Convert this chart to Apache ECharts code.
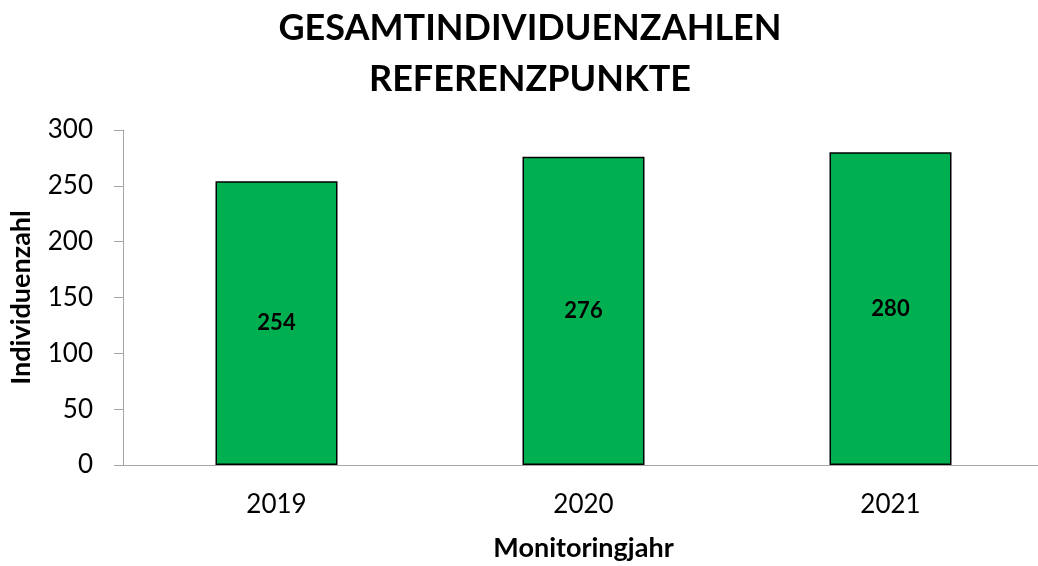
<!DOCTYPE html>
<html>
<head>
<meta charset="utf-8">
<script src="https://cdn.jsdelivr.net/npm/echarts@6/dist/echarts.min.js"></script>
<style>
  html, body { margin: 0; padding: 0; background: #fff; }
  #chart { width: 1038px; height: 566px; }
</style>
</head>
<body>
<div id="chart"></div>
<script>
// Daten
let years = ["2019", "2020", "2021"];
let counts = [254, 276, 280];
let yTicks = [0, 50, 100, 150, 200, 250, 300];

let font = "Lato";

let mychart = echarts.init(document.getElementById("chart"));
let options = {
    animation: false,
    title: {
        text: "GESAMTINDIVIDUENZAHLEN\nREFERENZPUNKTE",
        left: 525,
        textAlign: "center",
        top: -2,
        textStyle: {
            fontFamily: font,
            fontWeight: "bold",
            fontSize: 36,
            lineHeight: 51,
            color: "#000"
        }
    },
    grid: {
        left: 123,
        right: -6,
        top: 130,
        bottom: 101,
        outerBoundsMode: "none"
    },
    xAxis: {
        type: "category",
        data: years,
        name: "Monitoringjahr",
        nameLocation: "middle",
        nameGap: 70,
        nameTextStyle: {
            fontFamily: font,
            fontWeight: "bold",
            fontSize: 27,
            color: "#000"
        },
        axisLine: { lineStyle: { color: "#a6a6a6", width: 1 } },
        axisTick: { length: 8, lineStyle: { color: "#a6a6a6" } },
        axisLabel: {
            fontFamily: font,
            fontSize: 26,
            color: "#000",
            margin: 27
        }
    },
    yAxis: {
        type: "value",
        min: 0,
        max: 300,
        interval: 50,
        name: "Individuenzahl",
        nameLocation: "middle",
        nameGap: 88,
        nameRotate: 90,
        nameTextStyle: {
            fontFamily: font,
            fontWeight: "bold",
            fontSize: 27,
            color: "#000"
        },
        splitLine: { show: false },
        axisLine: { show: true, lineStyle: { color: "#a6a6a6", width: 1 } },
        axisTick: { show: true, length: 9, lineStyle: { color: "#a6a6a6" } },
        axisLabel: {
            fontFamily: font,
            fontSize: 26,
            color: "#000",
            margin: 30,
            formatter: function (v) { return yTicks.indexOf(v) >= 0 ? v : ""; }
        }
    },
    series: [{
        type: "bar",
        data: counts,
        barWidth: 122,
        itemStyle: {
            color: "#00b050",
            borderColor: "#000",
            borderWidth: 1.5
        },
        label: {
            show: true,
            position: "inside",
            fontFamily: font,
            fontWeight: "bold",
            fontSize: 22,
            color: "#000"
        }
    }]
};
mychart.setOption(options);
</script>
</body>
</html>
